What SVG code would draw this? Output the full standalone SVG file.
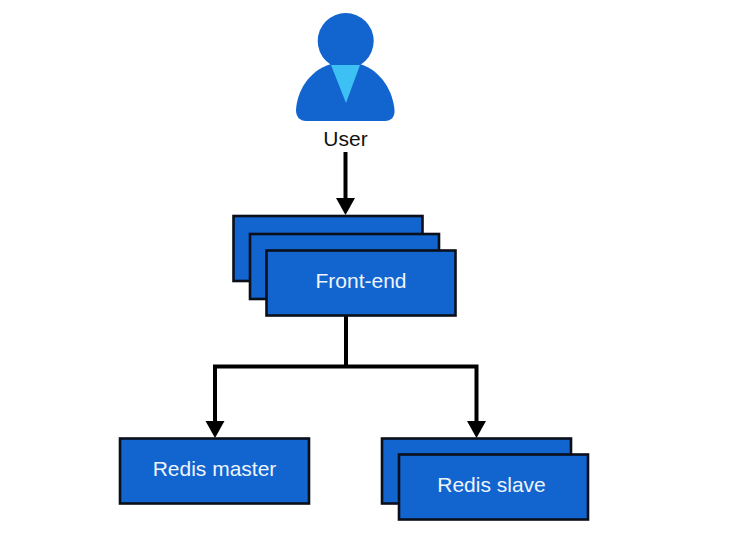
<svg xmlns="http://www.w3.org/2000/svg" width="756" height="557" viewBox="0 0 756 557">
<style>
.box{fill:#1264cf;stroke:#0a0f1a;stroke-width:2.6}
.lbl{font-family:"Liberation Sans",Arial,sans-serif;font-size:21px;fill:#eef4fc;text-anchor:middle}
.wire{fill:none;stroke:#000;stroke-width:4}
.arrowed{marker-end:url(#arrow)}
.user{fill:#1264cf}
</style>
<defs>
<marker id="arrow" markerUnits="userSpaceOnUse" markerWidth="18" markerHeight="20" refX="1" refY="10" orient="auto">
<path d="M0 0.500L17 10L0 19.500Z" fill="#000"/>
</marker>
</defs>
<rect width="756" height="557" fill="#fff"/>
<g id="connectors">
<path class="wire arrowed" d="M345.500 152V199"/>
<path class="wire" d="M346 315V366.500"/>
<path class="wire arrowed" d="M346 366.500H476.500V422"/>
<path class="wire arrowed" d="M346 366.500H215V422"/>
</g>
<g id="user">
<path class="user" d="M331 64C308 71 297 92 296 110C296 117 300 121 306 121H385C391 121 395 117 394.500 110C393 92 382 71 360 64Z"/>
<circle class="user" cx="345.700" cy="41" r="28"/>
<path d="M331 65H360L346 103Z" fill="#3dc1f5"/>
<text x="345.500" y="146" font-family="'Liberation Sans',Arial,sans-serif" font-size="21" fill="#111" text-anchor="middle">User</text>
</g>
<g id="front-end">
<rect class="box" x="233.500" y="216" width="189" height="65"/>
<rect class="box" x="250" y="234" width="189" height="65"/>
<rect class="box" x="266.500" y="250.500" width="189" height="65"/>
<text class="lbl" x="361" y="288">Front-end</text>
</g>
<g id="redis-master">
<rect class="box" x="120" y="438.500" width="189" height="65"/>
<text class="lbl" x="214.500" y="476">Redis master</text>
</g>
<g id="redis-slave">
<rect class="box" x="382" y="438.500" width="189" height="65"/>
<rect class="box" x="399" y="454.500" width="189" height="65"/>
<text class="lbl" x="491.500" y="492">Redis slave</text>
</g>
</svg>
